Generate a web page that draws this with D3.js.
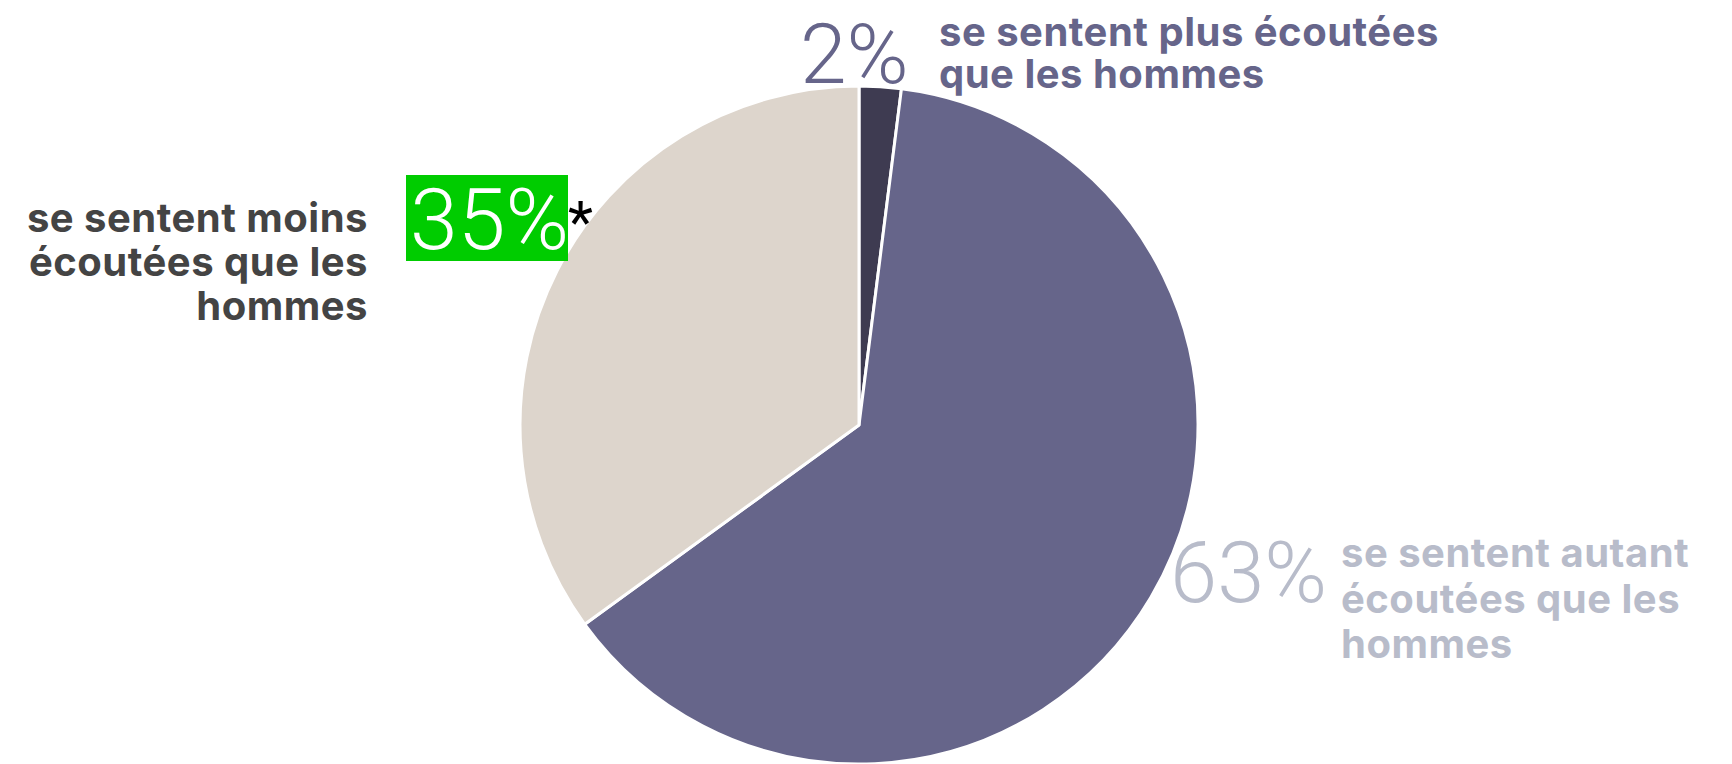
<!DOCTYPE html>
<html>
<head>
<meta charset="utf-8">
<script src="https://cdn.jsdelivr.net/npm/d3@7"></script>
<style>
  html, body { margin: 0; padding: 0; background: #fff; }
  svg { display: block; }
  .pct { font-family: Roboto, sans-serif; font-weight: 300; }
  .lbl { font-family: Inter, Roboto, sans-serif; font-weight: 700; letter-spacing: 0.5px; }
</style>
</head>
<body>
<svg id="chart"></svg>
<script>
// data
const categories = ['plus', 'autant', 'moins'];
const values = [2, 63, 35];
const pctLabels = ['2%', '63%', '35%'];
const descLines = [
  ['se sentent plus écoutées', 'que les hommes'],
  ['se sentent autant', 'écoutées que les', 'hommes'],
  ['se sentent moins', 'écoutées que les', 'hommes']
];

const width = 1732;
const height = 764;
const cx = 859;
const cy = 425;
const radius = 339;
const labelSize = 40;

const color = d3.scaleOrdinal()
    .domain(categories)
    .range(['#3e3b51', '#66658a', '#ddd5cc']);

const svg = d3.select('#chart')
    .attr('width', width)
    .attr('height', height);

const pie = d3.pie()
    .sort(null)
    .value(d => d.value);

const arc = d3.arc()
    .innerRadius(0)
    .outerRadius(radius);

const data = categories.map((c, i) => ({ key: c, value: values[i] }));

svg.append('g')
    .attr('transform', `translate(${cx}, ${cy})`)
  .selectAll('path')
  .data(pie(data))
  .join('path')
    .attr('d', arc)
    .attr('fill', d => color(d.data.key))
    .attr('stroke', '#fff')
    .attr('stroke-width', 3)
    .attr('stroke-linejoin', 'round');

// labels (layout relative to the svg)
const labels = svg.append('g');

// 2%
labels.append('text')
    .attr('class', 'pct')
    .attr('x', 800)
    .attr('y', 83)
    .attr('font-size', 84)
    .attr('fill', '#66658a')
    .text(pctLabels[0]);

const plusLbl = labels.append('text')
    .attr('class', 'lbl')
    .attr('font-size', labelSize)
    .attr('fill', '#66658a');
descLines[0].forEach((t, i) => {
  plusLbl.append('tspan')
      .attr('x', 939)
      .attr('y', 46 + i * 42)
      .text(t);
});

// 63%
labels.append('text')
    .attr('class', 'pct')
    .attr('x', 1170)
    .attr('y', 602)
    .attr('font-size', 85)
    .attr('fill', '#b8bcca')
    .text(pctLabels[1]);

const autantLbl = labels.append('text')
    .attr('class', 'lbl')
    .attr('font-size', labelSize)
    .attr('fill', '#b8bcca');
descLines[1].forEach((t, i) => {
  autantLbl.append('tspan')
      .attr('x', 1341)
      .attr('y', 567 + i * 45.5)
      .text(t);
});

// 35% highlighted
labels.append('rect')
    .attr('x', 406)
    .attr('y', 175)
    .attr('width', 162)
    .attr('height', 86)
    .attr('fill', '#00cc00');

labels.append('text')
    .attr('class', 'pct')
    .attr('x', 410)
    .attr('y', 249)
    .attr('font-size', 86)
    .attr('fill', '#fff')
    .text(pctLabels[2]);

labels.append('text')
    .attr('x', 568)
    .attr('y', 242)
    .attr('font-family', 'Roboto, sans-serif')
    .attr('font-size', 58)
    .attr('fill', '#000')
    .text('*');

const moinsLbl = labels.append('text')
    .attr('class', 'lbl')
    .attr('font-size', labelSize)
    .attr('text-anchor', 'end')
    .attr('fill', '#444444');
descLines[2].forEach((t, i) => {
  moinsLbl.append('tspan')
      .attr('x', 368)
      .attr('y', 232 + i * 44)
      .text(t);
});
</script>
</body>
</html>
